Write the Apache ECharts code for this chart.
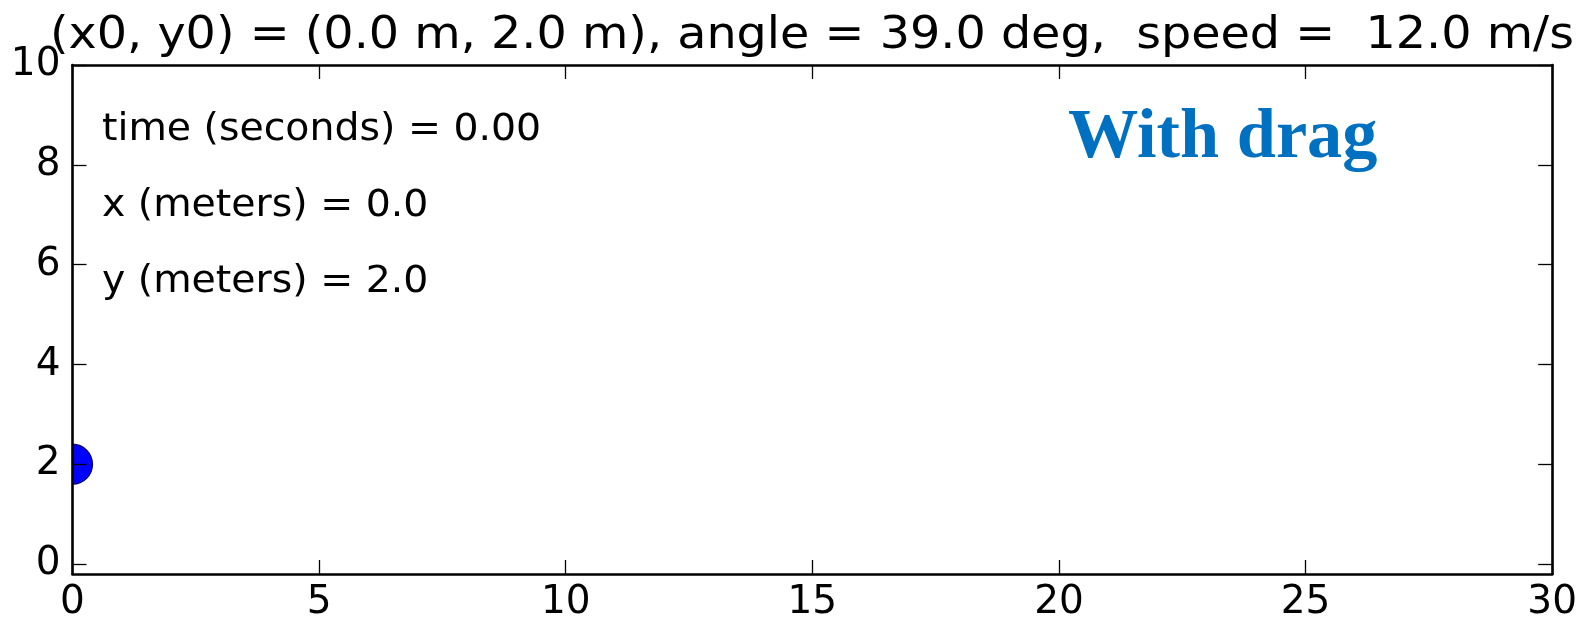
<!DOCTYPE html>
<html>
<head>
<meta charset="utf-8">
<script src="https://cdn.jsdelivr.net/npm/echarts@6/dist/echarts.min.js"></script>
<style>
html,body{margin:0;padding:0;background:#fff;}
#c{width:1580px;height:623px;}
</style>
</head>
<body>
<div id="c"></div>
<script>
// ---- data ----
const titleText = '(x0, y0) = (0.0 m, 2.0 m), angle = 39.0 deg,  speed =  12.0 m/s';
const ballTime = [0.00];
const ballX = [0.0];
const ballY = [2.0];
const xTickValues = [0, 5, 10, 15, 20, 25, 30];
const yTickValues = [0, 2, 4, 6, 8, 10];
const xLimits = [0, 30];
const yLimits = [-0.2, 10];
const infoLabels = ['time (seconds)', 'x (meters)', 'y (meters)'];
const infoValues = [ballTime[0].toFixed(2), ballX[0].toFixed(1), ballY[0].toFixed(1)];
const overlayLabel = 'With drag';

// ---- styles ----
const SANS = "'DejaVu Sans', sans-serif";
const TICK_FS = 39;
const lineW = 2.6;
const BALL_R = 20;
const GRID = { left: 72.5, top: 65, width: 1489, height: 509 };

function makeX(pos, showLabel) {
  return {
    type: 'value', position: pos, min: xLimits[0], max: xLimits[1],
    z: 5,
    axisLine: { show: true, onZero: false, lineStyle: { color: '#000', width: lineW } },
    axisTick: { show: true, inside: true, length: 14, customValues: xTickValues,
      lineStyle: { color: '#000', width: 1.3 } },
    axisLabel: { show: showLabel, customValues: xTickValues, fontSize: TICK_FS, fontFamily: SANS,
      color: '#000', margin: 9 },
    splitLine: { show: false }
  };
}
function makeY(pos, showLabel) {
  return {
    type: 'value', position: pos, min: yLimits[0], max: yLimits[1],
    z: 5,
    axisLine: { show: true, onZero: false, lineStyle: { color: '#000', width: lineW } },
    axisTick: { show: true, inside: true, length: 14, customValues: yTickValues,
      lineStyle: { color: '#000', width: 1.3 } },
    axisLabel: { show: showLabel, customValues: yTickValues, fontSize: TICK_FS, fontFamily: SANS,
      color: '#000', margin: 12 },
    splitLine: { show: false }
  };
}

const infoBaselines = [143, 219, 295];
const infoFS = 37;
const infoGraphics = infoLabels.map((lab, i) => ({
  type: 'text', x: 102, y: infoBaselines[i] - 0.346 * infoFS, scaleX: 1.065, z: 20,
  style: { text: lab + ' = ' + infoValues[i], font: infoFS + 'px ' + SANS, fill: '#000',
    align: 'left', verticalAlign: 'middle', textAlign: 'left', textVerticalAlign: 'middle' }
}));

const textGraphics = [
  { type: 'text', x: 50, y: 52 - 0.346 * 44, scaleX: 1.083, z: 20,
    style: { text: titleText, font: '44px ' + SANS, fill: '#000',
      align: 'left', verticalAlign: 'middle', textAlign: 'left', textVerticalAlign: 'middle' } },
  ...infoGraphics,
  { type: 'text', x: 1068, y: 138.5, scaleX: 1.005, z: 20,
    style: { text: overlayLabel, font: "bold 70px 'Liberation Serif', serif", fill: '#0070c0',
      align: 'left', verticalAlign: 'middle', textAlign: 'left', textVerticalAlign: 'middle' } }
];

const chart = echarts.init(document.getElementById('c'), null, { renderer: 'canvas' });
chart.setOption({
  backgroundColor: '#fff',
  animation: false,
  grid: Object.assign({ containLabel: false }, GRID),
  xAxis: [makeX('bottom', true), makeX('top', false)],
  yAxis: [makeY('left', true), makeY('right', false)],
  series: [{
    type: 'scatter',
    xAxisIndex: 0, yAxisIndex: 0,
    z: 2,
    clip: false,
    symbol: 'circle',
    symbolSize: BALL_R * 2,
    itemStyle: { color: '#0000ff', borderColor: '#00005a', borderWidth: 1.2, opacity: 1 },
    data: ballX.map((x, i) => [x, ballY[i]])
  }],
  graphic: textGraphics
});

// Clip the marker to the plotting area: white masks outside the axes box,
// placed between the series (z 2) and the axes (z 5).
const masks = [];
ballX.forEach((x, i) => {
  const p = chart.convertToPixel({ gridIndex: 0 }, [x, ballY[i]]);
  const r = BALL_R + 3;
  const bx = p[0] - r, by = p[1] - r, s = 2 * r;
  const gx0 = GRID.left, gx1 = GRID.left + GRID.width, gy0 = GRID.top, gy1 = GRID.top + GRID.height;
  const add = (x0, y0, w, h) => masks.push({ type: 'rect', z: 3, silent: true,
    shape: { x: x0, y: y0, width: w, height: h }, style: { fill: '#ffffff' } });
  if (bx < gx0) add(bx, by, gx0 - bx, s);
  if (bx + s > gx1) add(gx1, by, bx + s - gx1, s);
  if (by < gy0) add(bx, by, s, gy0 - by);
  if (by + s > gy1) add(bx, gy1, s, by + s - gy1);
});
chart.setOption({ graphic: textGraphics.concat(masks) });
</script>
</body>
</html>
